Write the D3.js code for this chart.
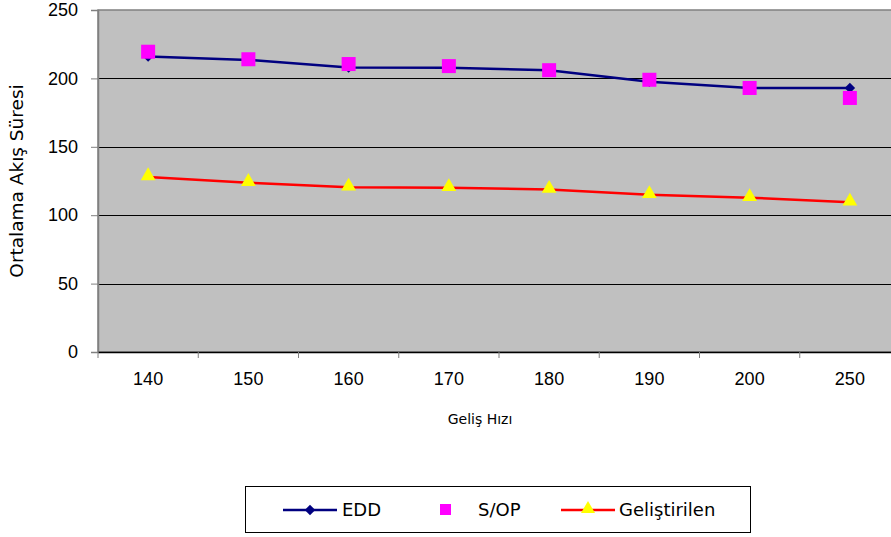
<!DOCTYPE html>
<html>
<head>
<meta charset="utf-8">
<script src="https://cdn.jsdelivr.net/npm/d3@7"></script>
<style>
  body { margin: 0; background: #fff; }
  svg { display: block; font-family: "DejaVu Sans", Verdana, sans-serif; }
</style>
</head>
<body>
<div id="chart"></div>
<script>
const [WIDTH, HEIGHT] = [891, 537]
const MARGIN = { left: 98, right: -9, top: 10, bottom: 185 }

const categories = ['140', '150', '160', '170', '180', '190', '200', '250']
const eddValues = [216, 213.5, 208, 207.8, 206, 197.6, 193, 193]
const sopValues = [219.5, 214, 210.5, 209, 206, 199, 193, 185.7]
const gelValues = [128, 123.8, 120.4, 120, 118.8, 115, 112.8, 109.5]
const yTicks = [0, 50, 100, 150, 200, 250]

const svg = d3.select('#chart').append('svg')
    .attr('width', WIDTH)
    .attr('height', HEIGHT)

const x = d3.scaleBand(categories, [MARGIN.left, WIDTH - MARGIN.right])
const y = d3.scaleLinear([0, 250], [HEIGHT - MARGIN.bottom, MARGIN.top])
const cx = d => x(d) + x.bandwidth() / 2

// plot background
svg.append('rect')
    .attr('x', MARGIN.left)
    .attr('y', MARGIN.top)
    .attr('width', WIDTH - MARGIN.right - MARGIN.left)
    .attr('height', y(0) - MARGIN.top)
    .attr('fill', '#c0c0c0')
    .attr('stroke', '#808080')
    .attr('stroke-width', 1.5)

// gridlines
svg.append('g')
    .selectAll('line')
    .data(yTicks.slice(1, -1))
    .join('line')
    .attr('x1', MARGIN.left)
    .attr('x2', WIDTH - MARGIN.right)
    .attr('y1', d => Math.round(y(d)) + 0.5)
    .attr('y2', d => Math.round(y(d)) + 0.5)
    .attr('stroke', '#000')

// y axis
const yAxis = svg.append('g')
    .attr('transform', `translate(${MARGIN.left},0)`)
    .call(d3.axisLeft(y).tickValues(yTicks).tickSize(7).tickPadding(13))
yAxis.select('.domain').attr('stroke', '#808080').attr('stroke-width', 1.5)
yAxis.selectAll('.tick line').attr('stroke', '#808080')
yAxis.selectAll('text').attr('font-size', 18).attr('fill', '#000')

// x axis
const xAxis = svg.append('g')
    .attr('transform', `translate(0,${y(0)})`)
    .call(d3.axisBottom(x).tickSize(0).tickPadding(20))
xAxis.select('.domain').attr('stroke', '#000').attr('stroke-width', 1.5)
xAxis.selectAll('text').attr('font-size', 18).attr('fill', '#000')
svg.append('g')
    .selectAll('line')
    .data(categories)
    .join('line')
    .attr('x1', d => x(d))
    .attr('x2', d => x(d))
    .attr('y1', y(0))
    .attr('y2', y(0) + 6)
    .attr('stroke', '#808080')

// titles
svg.append('text')
    .attr('x', 480)
    .attr('y', 419)
    .attr('dy', '0.35em')
    .attr('text-anchor', 'middle')
    .attr('font-size', 14)
    .text('Geliş Hızı')

svg.append('text')
    .attr('transform', `translate(23,${(y(0) + MARGIN.top) / 2}) rotate(-90)`)
    .attr('text-anchor', 'middle')
    .attr('font-size', 18.5)
    .text('Ortalama Akış Süresi')

const line = d3.line().x(d => cx(d.cat)).y(d => y(d.v))
const toPts = vals => categories.map((cat, i) => ({ cat, v: vals[i] }))

// EDD
svg.append('path')
    .datum(toPts(eddValues))
    .attr('d', line)
    .attr('fill', 'none')
    .attr('stroke', '#000080')
    .attr('stroke-width', 2.5)
svg.append('g')
    .selectAll('path')
    .data(toPts(eddValues))
    .join('path')
    .attr('d', d3.symbol(d3.symbolDiamond2, 70))
    .attr('transform', d => `translate(${cx(d.cat)},${y(d.v)})`)
    .attr('fill', '#000080')

// Geliştirilen
svg.append('path')
    .datum(toPts(gelValues))
    .attr('d', line)
    .attr('fill', 'none')
    .attr('stroke', '#ff0000')
    .attr('stroke-width', 2.5)
svg.append('g')
    .selectAll('path')
    .data(toPts(gelValues))
    .join('path')
    .attr('d', d3.symbol(d3.symbolTriangle, 95))
    .attr('transform', d => `translate(${cx(d.cat)},${y(d.v) - 1})`)
    .attr('fill', '#ffff00')

// S/OP (markers only)
svg.append('g')
    .selectAll('rect')
    .data(toPts(sopValues))
    .join('rect')
    .attr('x', d => cx(d.cat) - 7)
    .attr('y', d => y(d.v) - 7)
    .attr('width', 14)
    .attr('height', 14)
    .attr('fill', '#ff00ff')

// legend
const legend = svg.append('g')
legend.append('rect')
    .attr('x', 245.5).attr('y', 486.5)
    .attr('width', 505).attr('height', 46)
    .attr('fill', '#fff').attr('stroke', '#000')
const ly = 510
legend.append('line').attr('x1', 283).attr('x2', 337).attr('y1', ly).attr('y2', ly)
    .attr('stroke', '#000080').attr('stroke-width', 2.5)
legend.append('path').attr('d', d3.symbol(d3.symbolDiamond2, 70))
    .attr('transform', `translate(310,${ly})`).attr('fill', '#000080')
legend.append('rect').attr('x', 440).attr('y', ly - 6).attr('width', 11).attr('height', 11)
    .attr('fill', '#ff00ff')
legend.append('line').attr('x1', 561).attr('x2', 615).attr('y1', ly).attr('y2', ly)
    .attr('stroke', '#ff0000').attr('stroke-width', 2.5)
legend.append('path').attr('d', d3.symbol(d3.symbolTriangle, 85))
    .attr('transform', `translate(588,${ly - 1})`).attr('fill', '#ffff00')
const labels = [['EDD', 342], ['S/OP', 478], ['Geliştirilen', 619]]
legend.selectAll('text.lbl')
    .data(labels)
    .join('text')
    .attr('x', d => d[1])
    .attr('y', ly)
    .attr('dy', '0.35em')
    .attr('font-size', 18)
    .text(d => d[0])
</script>
</body>
</html>
